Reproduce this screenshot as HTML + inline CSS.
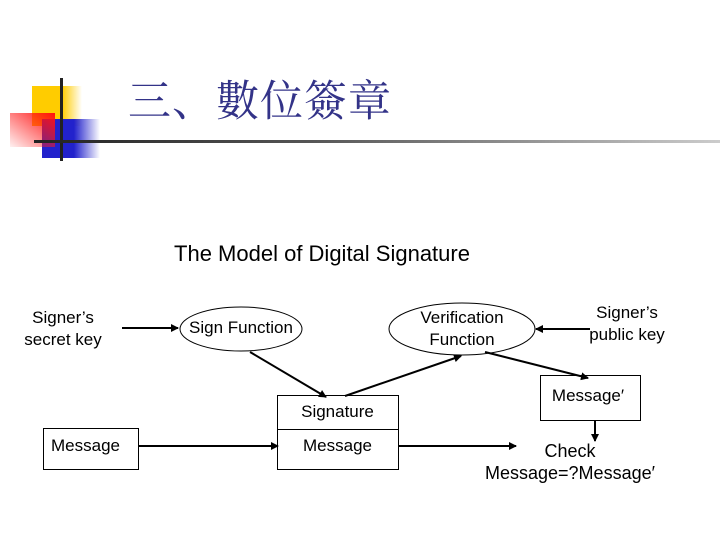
<!DOCTYPE html>
<html><head><meta charset="utf-8"><style>
body{margin:0;width:720px;height:540px;background:#fff;position:relative;overflow:hidden;font-family:"Liberation Sans",Arial,sans-serif}
.a{position:absolute}
.t{position:absolute;font-size:17px;color:#000;text-align:center;line-height:22px}
</style></head><body>
<div class="a" style="left:32px;top:86px;width:50px;height:40px;background:linear-gradient(to right,#ffcc00 60%,rgba(255,204,0,0))"></div>
<div class="a" style="left:42px;top:119px;width:58px;height:39px;background:linear-gradient(to right,#2222cc 55%,rgba(34,34,204,0))"></div>
<div class="a" style="left:10px;top:113px;width:45px;height:34px;background:linear-gradient(to bottom left,#ff1010,rgba(255,120,120,0.1))"></div>
<div class="a" style="left:60px;top:78px;width:3px;height:83px;background:#222"></div>
<div class="a" style="left:34px;top:140px;width:686px;height:3px;background:linear-gradient(to right,#222,#555 40%,#ccc)"></div>
<div class="a" style="left:128px;top:73px;font-size:43px;color:#333388;font-family:'Noto Serif CJK SC','Liberation Serif',serif;line-height:52px;letter-spacing:1px">三、數位簽章</div>
<div class="t" style="left:122px;top:242px;width:400px;font-size:22px;line-height:24px">The Model of Digital Signature</div>
<svg class="a" style="left:0;top:0" width="720" height="540">
<defs><marker id="m" markerWidth="8" markerHeight="8" refX="7" refY="4" orient="auto" markerUnits="userSpaceOnUse"><path d="M0,0L8,4L0,8z" fill="#000"/></marker></defs>
<g fill="#fff" stroke="#000" stroke-width="1">
<ellipse cx="241" cy="329" rx="61" ry="22"/>
<ellipse cx="462" cy="329" rx="73" ry="26"/>
<rect x="277.5" y="395.5" width="121" height="74"/>
<line x1="277" y1="429.5" x2="398" y2="429.5"/>
<rect x="43.5" y="428.5" width="95" height="41"/>
<rect x="540.5" y="375.5" width="100" height="45"/>
</g>
<g stroke="#000" stroke-width="2" marker-end="url(#m)">
<line x1="122" y1="328" x2="178" y2="328"/>
<line x1="590" y1="329" x2="536" y2="329"/>
<line x1="250" y1="352" x2="326" y2="397"/>
<line x1="345" y1="396" x2="461" y2="356"/>
<line x1="485" y1="352" x2="588" y2="378"/>
<line x1="138" y1="446" x2="278" y2="446"/>
<line x1="398" y1="446" x2="516" y2="446"/>
<line x1="595" y1="420" x2="595" y2="441"/>
</g>
</svg>
<div class="t" style="left:3px;top:307px;width:120px">Signer’s<br>secret key</div>
<div class="t" style="left:180px;top:317px;width:122px">Sign Function</div>
<div class="t" style="left:392px;top:307px;width:140px">Verification<br>Function</div>
<div class="t" style="left:567px;top:302px;width:120px">Signer’s<br>public key</div>
<div class="t" style="left:277px;top:401px;width:121px">Signature</div>
<div class="t" style="left:277px;top:435px;width:121px">Message</div>
<div class="t" style="left:43px;top:435px;width:85px">Message</div>
<div class="t" style="left:540px;top:385px;width:96px">Message′</div>
<div class="t" style="left:470px;top:440px;width:200px;font-size:18px">Check<br>Message=?Message′</div>
</body></html>
